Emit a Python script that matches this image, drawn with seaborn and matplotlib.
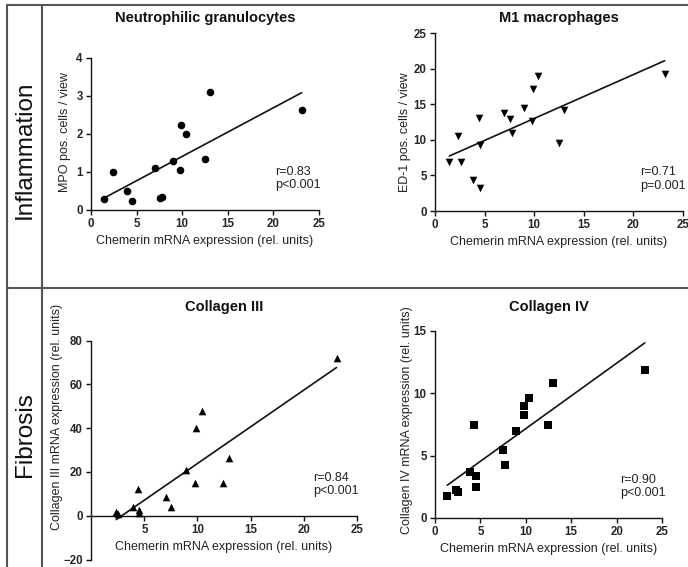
import matplotlib
matplotlib.use("Agg")
import matplotlib.pyplot as plt
from matplotlib.lines import Line2D
import seaborn as sns

# chemerin mRNA expression (x) and the four readouts (y)
neutro_x = [1.4, 2.45, 3.9, 4.55, 7.0, 7.55, 7.8, 8.95, 9.8, 9.9, 10.4, 12.45, 13.05, 23.1]
neutro_y = [0.30, 1.0, 0.5, 0.25, 1.1, 0.31, 0.35, 1.29, 1.04, 2.25, 2.0, 1.35, 3.1, 2.64]

m1_x = [1.45, 2.35, 2.6, 3.85, 4.45, 4.5, 4.55, 7.0, 7.55, 7.75, 8.95, 9.8, 9.85, 10.4, 12.45, 13.0, 23.15]
m1_y = [6.9, 10.5, 6.9, 4.4, 13.1, 3.3, 9.2, 13.8, 12.9, 11.0, 14.5, 12.7, 17.2, 19.0, 9.6, 14.2, 19.3]

col3_x = [2.35, 2.55, 3.9, 4.4, 4.5, 4.5, 7.0, 7.55, 8.95, 9.8, 9.85, 10.4, 12.4, 13.0, 23.1]
col3_y = [1.5, 0.6, 3.9, 12.4, 2.7, 1.2, 8.6, 3.8, 20.7, 15.0, 40.1, 47.9, 15.0, 26.2, 71.8]

col4_x = [1.35, 2.3, 2.55, 3.8, 4.35, 4.5, 4.5, 7.5, 7.7, 8.9, 9.75, 9.85, 10.35, 12.4, 12.95, 23.1]
col4_y = [1.76, 2.27, 2.11, 3.71, 7.47, 3.39, 2.46, 5.44, 4.24, 6.96, 8.94, 8.22, 9.61, 7.47, 10.78, 11.82]

titles = ["Neutrophilic granulocytes", "M1 macrophages", "Collagen III", "Collagen IV"]
ylabels = ["MPO pos. cells / view", "ED-1 pos. cells / view",
           "Collagen III mRNA expression (rel. units)", "Collagen IV mRNA expression (rel. units)"]
stats = ["r=0.83\np<0.001", "r=0.71\np=0.001", "r=0.84\np<0.001", "r=0.90\np<0.001"]
xlabel = "Chemerin mRNA expression (rel. units)"

sns.set_style("ticks")
plt.rcParams['font.family'] = ['Liberation Sans', 'DejaVu Sans']

W, H = 688, 567
fig = plt.figure(figsize=(W / 100, H / 100), dpi=100)


def px_axes(left, top, right, bottom):
    return fig.add_axes([left / W, 1 - bottom / H, (right - left) / W, (bottom - top) / H])


panels = [
    dict(box=(91, 58, 319, 210), x=neutro_x, y=neutro_y, marker="o", ylim=(0, 4), yticks=[0, 1, 2, 3, 4],
         xticks=[0, 5, 10, 15, 20, 25], ylab=(-0.114, 0.513), xlab=-0.204, txt=(0.807, 0.207)),
    dict(box=(435, 33, 683, 211), x=m1_x, y=m1_y, marker="v", ylim=(0, 25), yticks=[0, 5, 10, 15, 20, 25],
         xticks=[0, 5, 10, 15, 20, 25], ylab=(-0.121, 0.444), xlab=-0.174, txt=(0.827, 0.18)),
    dict(box=(91.3, 340.5, 356.7, 559.5), x=col3_x, y=col3_y, marker="^", ylim=(-20, 80),
         yticks=[-20, 0, 20, 40, 60, 80], xticks=[5, 10, 15, 20, 25], ylab=(-0.129, 0.652), xlab=0.058,
         txt=(0.836, 0.342)),
    dict(box=(435, 330.7, 662, 518), x=col4_x, y=col4_y, marker="s", ylim=(0, 15), yticks=[0, 5, 10, 15],
         xticks=[0, 5, 10, 15, 20, 25], ylab=(-0.122, 0.523), xlab=-0.167, txt=(0.815, 0.167)),
]

for i, p in enumerate(panels):
    ax = px_axes(*p["box"])
    sns.regplot(x=p["x"], y=p["y"], ax=ax, ci=None, marker=p["marker"],
                scatter_kws=dict(color="#000000", alpha=1, s=30, linewidths=0, clip_on=False, zorder=3),
                line_kws=dict(color="#111111", lw=1.2))
    ax.set_xlim(0, 25)
    ax.set_ylim(*p["ylim"])
    ax.set_xticks(p["xticks"])
    ax.set_yticks(p["yticks"])
    sns.despine(ax=ax)
    for s in ["left", "bottom"]:
        ax.spines[s].set_linewidth(1.0)
        ax.spines[s].set_color("#111111")
    if i == 2:
        ax.spines["bottom"].set_position(("data", 0))
    ax.tick_params(length=3.5, width=1.0, color="#111111", labelsize=8.3, pad=2.5)
    for lab in ax.get_xticklabels() + ax.get_yticklabels():
        lab.set_fontweight("bold")
    ax.set_xlabel(xlabel, fontsize=9, color="#222222")
    ax.set_ylabel(ylabels[i], fontsize=9, color="#222222")
    ax.xaxis.set_label_coords(0.5, p["xlab"])
    ax.xaxis.label.set_va("center")
    ax.yaxis.set_label_coords(*p["ylab"])
    ax.yaxis.label.set_va("center")
    ax.text(p["txt"][0], p["txt"][1], stats[i], transform=ax.transAxes, fontsize=9,
            ha="left", va="center", color="#222222", linespacing=1.15)
    bx = p["box"]
    fig.text((bx[0] + bx[2]) / 2 / W, 1 - (18.3 if i < 2 else 306.7) / H, titles[i],
             ha="center", va="center", fontsize=10.5, fontweight="bold", color="#111111")

# table frame around the panels
frame = dict(color="#555555", lw=1.5)
fig.add_artist(Line2D([7 / W, 1], [1 - 5 / H, 1 - 5 / H], **frame))
fig.add_artist(Line2D([7 / W, 1], [1 - 288 / H, 1 - 288 / H], **frame))
fig.add_artist(Line2D([7 / W, 7 / W], [1 - 5 / H, 0], **frame))
fig.add_artist(Line2D([42 / W, 42 / W], [1 - 5 / H, 0], **frame))

fig.text(25 / W, 1 - 150 / H, "Inflammation", rotation=90, ha="center", va="center", fontsize=17.5, color="#111111")
fig.text(25 / W, 1 - 435 / H, "Fibrosis", rotation=90, ha="center", va="center", fontsize=17.5, color="#111111")

fig.savefig("out.png", dpi=100)
